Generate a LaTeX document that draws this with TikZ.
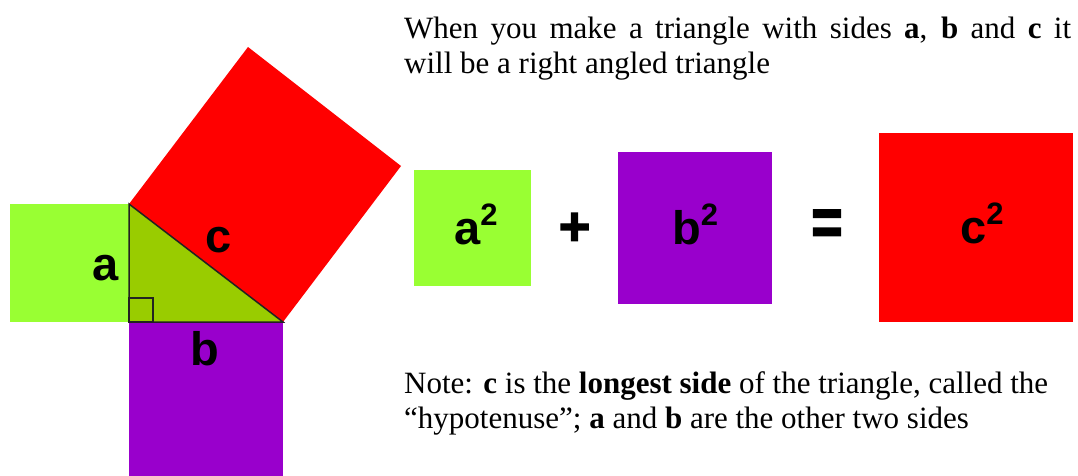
\documentclass[tikz,border=0pt]{standalone}
\usepackage{fontspec}
\setmainfont{Liberation Serif}
\newfontfamily\lsans{Liberation Sans}
\newfontfamily\lheavy{Liberation Sans Bold}[FakeBold=2.5]
\definecolor{sqgreen}{HTML}{99FF33}
\definecolor{trigreen}{HTML}{99CC00}
\definecolor{sqpurple}{HTML}{9900CC}
\definecolor{sqred}{HTML}{FF0000}
\definecolor{edge}{HTML}{222222}
\tikzset{
  lbl/.style={inner sep=0pt, anchor=base, font=\lsans\bfseries\fontsize{47}{47}\selectfont},
  sq/.style={inner sep=0pt, anchor=base west, font=\lsans\bfseries\fontsize{47}{47}\selectfont},
  op/.style={inner sep=0pt, anchor=center, font=\lheavy\fontsize{54}{54}\selectfont},
  para/.style={inner sep=0pt, anchor=base west, font=\fontsize{31}{35}\selectfont},
  triedge/.style={draw=edge, line width=1.5pt}
}
\newcommand{\sqr}[1]{#1\raisebox{19pt}{\fontsize{31}{31}\selectfont 2}}
\begin{document}
\begin{tikzpicture}[x=1pt,y=-1pt]
\useasboundingbox (0,0) rectangle (1078,476);
% left figure
\coordinate (A) at (129,204);
\coordinate (C) at (129,322);
\coordinate (B) at (283,322);
\coordinate (Bp) at (401,166);
\coordinate (Ap) at (248,47);
\fill[sqgreen] (10,204) rectangle (C);
\fill[sqpurple] (C) rectangle (283,476);
\fill[sqred] (A) -- (B) -- (Bp) -- (Ap) -- cycle;
\fill[trigreen] (A) -- (C) -- (B) -- cycle;
\draw[triedge] (A) -- (C) -- (B) -- cycle;
\draw[triedge] (129,298) rectangle (153,322);
\node[lbl] (la) at (105.5,280) {a};
\node[lbl] (lc) at (218.5,252) {c};
\node[lbl] (lb) at (205,365) {b};
% equation
\fill[sqgreen] (414,170) rectangle (531,286);
\fill[sqpurple] (618,152) rectangle (772,304);
\fill[sqred] (879,133) rectangle (1073,322);
\node[sq] (a2) at (454,244) {\sqr{a}};
\node[op] (plus) at (574.5,229) {+};
\node[sq] (b2) at (672,244) {\sqr{b}};
\node[op, yscale=1.25] (eq) at (827,227.5) {=};
\node[sq] (c2) at (960,243) {\sqr{c}};
% texts
\node[para] (top) at (404,39) {\parbox[t]{667pt}{When you make a triangle with sides \textbf{a}, \textbf{b} and \textbf{c} it\linebreak will be a right angled triangle}};
\node[para] (note) at (404,393) {\parbox[t]{674pt}{\raggedright Note: \textbf{c} is the \textbf{longest side} of the triangle, called the\\ “hypotenuse”; \textbf{a} and \textbf{b} are the other two sides}};
\end{tikzpicture}
\end{document}
